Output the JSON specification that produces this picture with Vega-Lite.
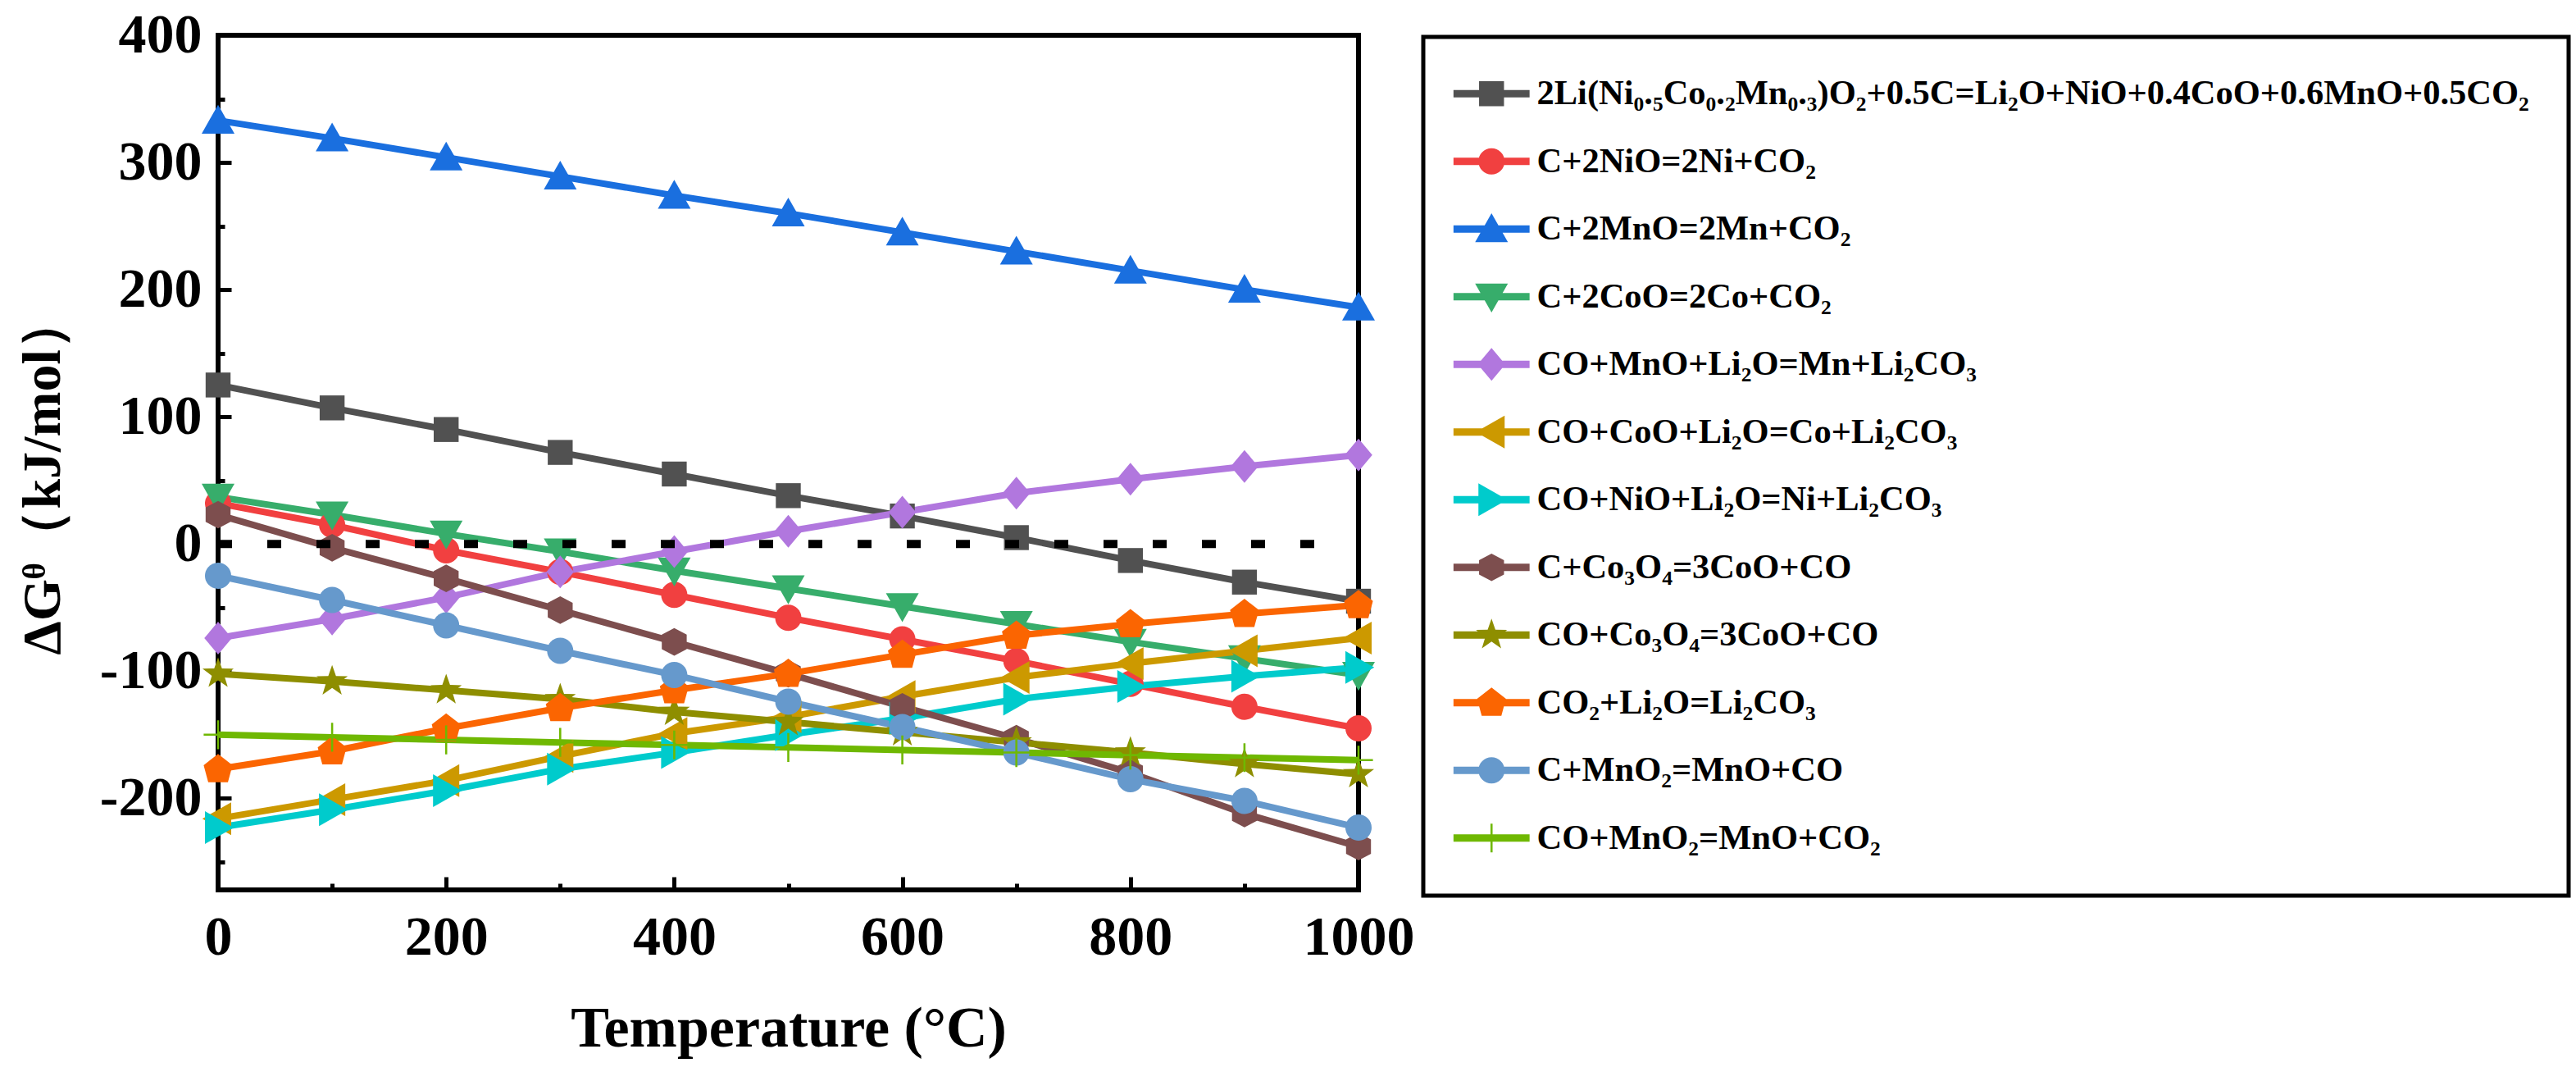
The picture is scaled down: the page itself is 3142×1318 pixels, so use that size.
{
  "$schema": "https://vega.github.io/schema/vega-lite/v6.json",
  "width": 1391,
  "height": 1042,
  "autosize": {"type": "none"},
  "padding": {"left": 266, "top": 43, "right": 1485, "bottom": 233},
  "background": "white",
  "config": {
    "view": {"stroke": "black", "strokeWidth": 6},
    "font": "Liberation Serif",
    "axis": {
      "domain": false,
      "grid": false,
      "labelFlush": false,
      "labelFont": "Liberation Serif",
      "labelFontSize": 68,
      "labelFontWeight": "bold",
      "labelColor": "black",
      "tickColor": "black",
      "tickWidth": 5,
      "titleFont": "Liberation Serif",
      "titleFontWeight": "bold",
      "titleColor": "black"
    },
    "legend": {
      "strokeColor": "black",
      "strokeWidth": 5,
      "fillColor": "white",
      "padding": 48,
      "labelFont": "Liberation Serif",
      "labelFontSize": 42.5,
      "labelFontWeight": "bold",
      "labelColor": "black",
      "labelLimit": 3000,
      "labelOffset": 34,
      "symbolOffset": 14,
      "symbolSize": 1024,
      "symbolStrokeWidth": 0,
      "rowPadding": 39.5
    }
  },
  "datasets": {
    "curves": [
      {"reaction": "2Li(Ni₀.₅Co₀.₂Mn₀.₃)O₂+0.5C=Li₂O+NiO+0.4CoO+0.6MnO+0.5CO₂", "T": 0, "G": 125},
      {"reaction": "2Li(Ni₀.₅Co₀.₂Mn₀.₃)O₂+0.5C=Li₂O+NiO+0.4CoO+0.6MnO+0.5CO₂", "T": 100, "G": 107},
      {"reaction": "2Li(Ni₀.₅Co₀.₂Mn₀.₃)O₂+0.5C=Li₂O+NiO+0.4CoO+0.6MnO+0.5CO₂", "T": 200, "G": 90},
      {"reaction": "2Li(Ni₀.₅Co₀.₂Mn₀.₃)O₂+0.5C=Li₂O+NiO+0.4CoO+0.6MnO+0.5CO₂", "T": 300, "G": 72},
      {"reaction": "2Li(Ni₀.₅Co₀.₂Mn₀.₃)O₂+0.5C=Li₂O+NiO+0.4CoO+0.6MnO+0.5CO₂", "T": 400, "G": 55},
      {"reaction": "2Li(Ni₀.₅Co₀.₂Mn₀.₃)O₂+0.5C=Li₂O+NiO+0.4CoO+0.6MnO+0.5CO₂", "T": 500, "G": 38},
      {"reaction": "2Li(Ni₀.₅Co₀.₂Mn₀.₃)O₂+0.5C=Li₂O+NiO+0.4CoO+0.6MnO+0.5CO₂", "T": 600, "G": 22},
      {"reaction": "2Li(Ni₀.₅Co₀.₂Mn₀.₃)O₂+0.5C=Li₂O+NiO+0.4CoO+0.6MnO+0.5CO₂", "T": 700, "G": 5},
      {"reaction": "2Li(Ni₀.₅Co₀.₂Mn₀.₃)O₂+0.5C=Li₂O+NiO+0.4CoO+0.6MnO+0.5CO₂", "T": 800, "G": -13},
      {"reaction": "2Li(Ni₀.₅Co₀.₂Mn₀.₃)O₂+0.5C=Li₂O+NiO+0.4CoO+0.6MnO+0.5CO₂", "T": 900, "G": -30},
      {"reaction": "2Li(Ni₀.₅Co₀.₂Mn₀.₃)O₂+0.5C=Li₂O+NiO+0.4CoO+0.6MnO+0.5CO₂", "T": 1000, "G": -45},
      {"reaction": "C+2NiO=2Ni+CO₂", "T": 0, "G": 32},
      {"reaction": "C+2NiO=2Ni+CO₂", "T": 100, "G": 15},
      {"reaction": "C+2NiO=2Ni+CO₂", "T": 200, "G": -5},
      {"reaction": "C+2NiO=2Ni+CO₂", "T": 300, "G": -22},
      {"reaction": "C+2NiO=2Ni+CO₂", "T": 400, "G": -40},
      {"reaction": "C+2NiO=2Ni+CO₂", "T": 500, "G": -58},
      {"reaction": "C+2NiO=2Ni+CO₂", "T": 600, "G": -75},
      {"reaction": "C+2NiO=2Ni+CO₂", "T": 700, "G": -92},
      {"reaction": "C+2NiO=2Ni+CO₂", "T": 800, "G": -110},
      {"reaction": "C+2NiO=2Ni+CO₂", "T": 900, "G": -128},
      {"reaction": "C+2NiO=2Ni+CO₂", "T": 1000, "G": -145},
      {"reaction": "C+2MnO=2Mn+CO₂", "T": 0, "G": 333},
      {"reaction": "C+2MnO=2Mn+CO₂", "T": 100, "G": 319},
      {"reaction": "C+2MnO=2Mn+CO₂", "T": 200, "G": 304},
      {"reaction": "C+2MnO=2Mn+CO₂", "T": 300, "G": 289},
      {"reaction": "C+2MnO=2Mn+CO₂", "T": 400, "G": 274},
      {"reaction": "C+2MnO=2Mn+CO₂", "T": 500, "G": 260},
      {"reaction": "C+2MnO=2Mn+CO₂", "T": 600, "G": 245},
      {"reaction": "C+2MnO=2Mn+CO₂", "T": 700, "G": 230},
      {"reaction": "C+2MnO=2Mn+CO₂", "T": 800, "G": 215},
      {"reaction": "C+2MnO=2Mn+CO₂", "T": 900, "G": 200},
      {"reaction": "C+2MnO=2Mn+CO₂", "T": 1000, "G": 186},
      {"reaction": "C+2CoO=2Co+CO₂", "T": 0, "G": 37},
      {"reaction": "C+2CoO=2Co+CO₂", "T": 100, "G": 23},
      {"reaction": "C+2CoO=2Co+CO₂", "T": 200, "G": 8},
      {"reaction": "C+2CoO=2Co+CO₂", "T": 300, "G": -6},
      {"reaction": "C+2CoO=2Co+CO₂", "T": 400, "G": -21},
      {"reaction": "C+2CoO=2Co+CO₂", "T": 500, "G": -35},
      {"reaction": "C+2CoO=2Co+CO₂", "T": 600, "G": -49},
      {"reaction": "C+2CoO=2Co+CO₂", "T": 700, "G": -63},
      {"reaction": "C+2CoO=2Co+CO₂", "T": 800, "G": -77},
      {"reaction": "C+2CoO=2Co+CO₂", "T": 900, "G": -90},
      {"reaction": "C+2CoO=2Co+CO₂", "T": 1000, "G": -103},
      {"reaction": "CO+MnO+Li₂O=Mn+Li₂CO₃", "T": 0, "G": -74},
      {"reaction": "CO+MnO+Li₂O=Mn+Li₂CO₃", "T": 100, "G": -59},
      {"reaction": "CO+MnO+Li₂O=Mn+Li₂CO₃", "T": 200, "G": -42},
      {"reaction": "CO+MnO+Li₂O=Mn+Li₂CO₃", "T": 300, "G": -22},
      {"reaction": "CO+MnO+Li₂O=Mn+Li₂CO₃", "T": 400, "G": -6},
      {"reaction": "CO+MnO+Li₂O=Mn+Li₂CO₃", "T": 500, "G": 10},
      {"reaction": "CO+MnO+Li₂O=Mn+Li₂CO₃", "T": 600, "G": 25},
      {"reaction": "CO+MnO+Li₂O=Mn+Li₂CO₃", "T": 700, "G": 40},
      {"reaction": "CO+MnO+Li₂O=Mn+Li₂CO₃", "T": 800, "G": 51},
      {"reaction": "CO+MnO+Li₂O=Mn+Li₂CO₃", "T": 900, "G": 61},
      {"reaction": "CO+MnO+Li₂O=Mn+Li₂CO₃", "T": 1000, "G": 70},
      {"reaction": "CO+CoO+Li₂O=Co+Li₂CO₃", "T": 0, "G": -216},
      {"reaction": "CO+CoO+Li₂O=Co+Li₂CO₃", "T": 100, "G": -201},
      {"reaction": "CO+CoO+Li₂O=Co+Li₂CO₃", "T": 200, "G": -186},
      {"reaction": "CO+CoO+Li₂O=Co+Li₂CO₃", "T": 300, "G": -167},
      {"reaction": "CO+CoO+Li₂O=Co+Li₂CO₃", "T": 400, "G": -149},
      {"reaction": "CO+CoO+Li₂O=Co+Li₂CO₃", "T": 500, "G": -136},
      {"reaction": "CO+CoO+Li₂O=Co+Li₂CO₃", "T": 600, "G": -120},
      {"reaction": "CO+CoO+Li₂O=Co+Li₂CO₃", "T": 700, "G": -105},
      {"reaction": "CO+CoO+Li₂O=Co+Li₂CO₃", "T": 800, "G": -94},
      {"reaction": "CO+CoO+Li₂O=Co+Li₂CO₃", "T": 900, "G": -84},
      {"reaction": "CO+CoO+Li₂O=Co+Li₂CO₃", "T": 1000, "G": -74},
      {"reaction": "CO+NiO+Li₂O=Ni+Li₂CO₃", "T": 0, "G": -223},
      {"reaction": "CO+NiO+Li₂O=Ni+Li₂CO₃", "T": 100, "G": -209},
      {"reaction": "CO+NiO+Li₂O=Ni+Li₂CO₃", "T": 200, "G": -194},
      {"reaction": "CO+NiO+Li₂O=Ni+Li₂CO₃", "T": 300, "G": -177},
      {"reaction": "CO+NiO+Li₂O=Ni+Li₂CO₃", "T": 400, "G": -164},
      {"reaction": "CO+NiO+Li₂O=Ni+Li₂CO₃", "T": 500, "G": -150},
      {"reaction": "CO+NiO+Li₂O=Ni+Li₂CO₃", "T": 600, "G": -137},
      {"reaction": "CO+NiO+Li₂O=Ni+Li₂CO₃", "T": 700, "G": -122},
      {"reaction": "CO+NiO+Li₂O=Ni+Li₂CO₃", "T": 800, "G": -112},
      {"reaction": "CO+NiO+Li₂O=Ni+Li₂CO₃", "T": 900, "G": -104},
      {"reaction": "CO+NiO+Li₂O=Ni+Li₂CO₃", "T": 1000, "G": -97},
      {"reaction": "C+Co₃O₄=3CoO+CO", "T": 0, "G": 23},
      {"reaction": "C+Co₃O₄=3CoO+CO", "T": 100, "G": -3},
      {"reaction": "C+Co₃O₄=3CoO+CO", "T": 200, "G": -27},
      {"reaction": "C+Co₃O₄=3CoO+CO", "T": 300, "G": -52},
      {"reaction": "C+Co₃O₄=3CoO+CO", "T": 400, "G": -77},
      {"reaction": "C+Co₃O₄=3CoO+CO", "T": 500, "G": -102},
      {"reaction": "C+Co₃O₄=3CoO+CO", "T": 600, "G": -128},
      {"reaction": "C+Co₃O₄=3CoO+CO", "T": 700, "G": -153},
      {"reaction": "C+Co₃O₄=3CoO+CO", "T": 800, "G": -180},
      {"reaction": "C+Co₃O₄=3CoO+CO", "T": 900, "G": -212},
      {"reaction": "C+Co₃O₄=3CoO+CO", "T": 1000, "G": -238},
      {"reaction": "CO+Co₃O₄=3CoO+CO", "T": 0, "G": -102},
      {"reaction": "CO+Co₃O₄=3CoO+CO", "T": 100, "G": -108},
      {"reaction": "CO+Co₃O₄=3CoO+CO", "T": 200, "G": -115},
      {"reaction": "CO+Co₃O₄=3CoO+CO", "T": 300, "G": -122},
      {"reaction": "CO+Co₃O₄=3CoO+CO", "T": 400, "G": -132},
      {"reaction": "CO+Co₃O₄=3CoO+CO", "T": 500, "G": -140},
      {"reaction": "CO+Co₃O₄=3CoO+CO", "T": 600, "G": -148},
      {"reaction": "CO+Co₃O₄=3CoO+CO", "T": 700, "G": -156},
      {"reaction": "CO+Co₃O₄=3CoO+CO", "T": 800, "G": -164},
      {"reaction": "CO+Co₃O₄=3CoO+CO", "T": 900, "G": -173},
      {"reaction": "CO+Co₃O₄=3CoO+CO", "T": 1000, "G": -181},
      {"reaction": "CO₂+Li₂O=Li₂CO₃", "T": 0, "G": -177},
      {"reaction": "CO₂+Li₂O=Li₂CO₃", "T": 100, "G": -163},
      {"reaction": "CO₂+Li₂O=Li₂CO₃", "T": 200, "G": -145},
      {"reaction": "CO₂+Li₂O=Li₂CO₃", "T": 300, "G": -129},
      {"reaction": "CO₂+Li₂O=Li₂CO₃", "T": 400, "G": -115},
      {"reaction": "CO₂+Li₂O=Li₂CO₃", "T": 500, "G": -102},
      {"reaction": "CO₂+Li₂O=Li₂CO₃", "T": 600, "G": -87},
      {"reaction": "CO₂+Li₂O=Li₂CO₃", "T": 700, "G": -72},
      {"reaction": "CO₂+Li₂O=Li₂CO₃", "T": 800, "G": -63},
      {"reaction": "CO₂+Li₂O=Li₂CO₃", "T": 900, "G": -55},
      {"reaction": "CO₂+Li₂O=Li₂CO₃", "T": 1000, "G": -48},
      {"reaction": "C+MnO₂=MnO+CO", "T": 0, "G": -25},
      {"reaction": "C+MnO₂=MnO+CO", "T": 100, "G": -44},
      {"reaction": "C+MnO₂=MnO+CO", "T": 200, "G": -64},
      {"reaction": "C+MnO₂=MnO+CO", "T": 300, "G": -84},
      {"reaction": "C+MnO₂=MnO+CO", "T": 400, "G": -103},
      {"reaction": "C+MnO₂=MnO+CO", "T": 500, "G": -124},
      {"reaction": "C+MnO₂=MnO+CO", "T": 600, "G": -144},
      {"reaction": "C+MnO₂=MnO+CO", "T": 700, "G": -164},
      {"reaction": "C+MnO₂=MnO+CO", "T": 800, "G": -185},
      {"reaction": "C+MnO₂=MnO+CO", "T": 900, "G": -202},
      {"reaction": "C+MnO₂=MnO+CO", "T": 1000, "G": -223},
      {"reaction": "CO+MnO₂=MnO+CO₂", "T": 0, "G": -150},
      {"reaction": "CO+MnO₂=MnO+CO₂", "T": 100, "G": -152},
      {"reaction": "CO+MnO₂=MnO+CO₂", "T": 200, "G": -154},
      {"reaction": "CO+MnO₂=MnO+CO₂", "T": 300, "G": -156},
      {"reaction": "CO+MnO₂=MnO+CO₂", "T": 400, "G": -158},
      {"reaction": "CO+MnO₂=MnO+CO₂", "T": 500, "G": -160},
      {"reaction": "CO+MnO₂=MnO+CO₂", "T": 600, "G": -162},
      {"reaction": "CO+MnO₂=MnO+CO₂", "T": 700, "G": -164},
      {"reaction": "CO+MnO₂=MnO+CO₂", "T": 800, "G": -166},
      {"reaction": "CO+MnO₂=MnO+CO₂", "T": 900, "G": -168},
      {"reaction": "CO+MnO₂=MnO+CO₂", "T": 1000, "G": -170}
    ],
    "zero": [{"T": 0, "T2": 963, "G": 0}]
  },
  "layer": [
    {
      "data": {"name": "curves"},
      "mark": {"type": "line", "strokeWidth": 8},
      "encoding": {
        "x": {
          "field": "T", "type": "quantitative",
          "scale": {"domain": [0, 1000], "nice": false},
          "axis": {"values": [0, 200, 400, 600, 800, 1000], "format": "d", "tickSize": -16, "labelPadding": 40, "title": "Temperature (°C)", "titleFontSize": 70, "titleY": 190, "titleBaseline": "alphabetic", "orient": "bottom"}
        },
        "y": {
          "field": "G", "type": "quantitative",
          "scale": {"domain": [-272, 400], "nice": false, "zero": false},
          "axis": {"values": [-200, -100, 0, 100, 200, 300, 400], "format": "d", "labelExpr": "replace(datum.label, '\u2212', '-')", "tickSize": -16, "labelPadding": 36, "title": "ΔGᶿ（kJ/mol）", "titleFontSize": 66, "titleX": -214, "titleY": 536, "titleBaseline": "middle", "titleAngle": -90, "orient": "left"}
        },
        "color": {
          "field": "reaction", "type": "nominal",
          "scale": {
            "domain": ["2Li(Ni₀.₅Co₀.₂Mn₀.₃)O₂+0.5C=Li₂O+NiO+0.4CoO+0.6MnO+0.5CO₂", "C+2NiO=2Ni+CO₂", "C+2MnO=2Mn+CO₂", "C+2CoO=2Co+CO₂", "CO+MnO+Li₂O=Mn+Li₂CO₃", "CO+CoO+Li₂O=Co+Li₂CO₃", "CO+NiO+Li₂O=Ni+Li₂CO₃", "C+Co₃O₄=3CoO+CO", "CO+Co₃O₄=3CoO+CO", "CO₂+Li₂O=Li₂CO₃", "C+MnO₂=MnO+CO", "CO+MnO₂=MnO+CO₂"],
            "range": ["#515151", "#F14040", "#1A6FDF", "#37AD6B", "#B177DE", "#CC9900", "#00CBCC", "#7D4E4E", "#8E8E00", "#FB6501", "#6699CC", "#6FB802"]
          },
          "legend": {
            "title": null, "orient": "none", "legendX": 1470, "legendY": 2,
            "encode": {"symbols": {"update": {
              "shape": {"signal": "'M-2.9,-0.28H2.9V0.28H-2.9Z' + scale('shape', datum.value)"},
              "fill": {"signal": "scale('color', datum.value)"},
              "strokeWidth": {"value": 0},
              "opacity": {"value": 1}
            }}}
          }
        }
      }
    },
    {
      "data": {"name": "curves"},
      "mark": {"type": "point", "filled": true, "size": 1024, "opacity": 1, "strokeWidth": 0},
      "encoding": {
        "x": {
          "field": "T", "type": "quantitative",
          "axis": {"values": [100, 300, 500, 700, 900], "tickSize": -8, "labels": false, "title": null, "orient": "bottom"}
        },
        "y": {
          "field": "G", "type": "quantitative",
          "axis": {"values": [-250, -150, -50, 50, 150, 250, 350], "tickSize": -8, "labels": false, "title": null, "orient": "left"}
        },
        "color": {
          "field": "reaction", "type": "nominal",
          "legend": {
            "title": null, "orient": "none", "legendX": 1470, "legendY": 2,
            "encode": {"symbols": {"update": {
              "shape": {"signal": "'M-2.9,-0.28H2.9V0.28H-2.9Z' + scale('shape', datum.value)"},
              "fill": {"signal": "scale('color', datum.value)"},
              "strokeWidth": {"value": 0},
              "opacity": {"value": 1}
            }}}
          }
        },
        "shape": {
          "field": "reaction", "type": "nominal",
          "scale": {
            "domain": ["CO+MnO₂=MnO+CO₂", "C+MnO₂=MnO+CO", "CO₂+Li₂O=Li₂CO₃", "CO+Co₃O₄=3CoO+CO", "C+Co₃O₄=3CoO+CO", "CO+NiO+Li₂O=Ni+Li₂CO₃", "CO+CoO+Li₂O=Co+Li₂CO₃", "CO+MnO+Li₂O=Mn+Li₂CO₃", "C+2CoO=2Co+CO₂", "C+2MnO=2Mn+CO₂", "C+2NiO=2Ni+CO₂", "2Li(Ni₀.₅Co₀.₂Mn₀.₃)O₂+0.5C=Li₂O+NiO+0.4CoO+0.6MnO+0.5CO₂"],
            "range": [
              "M-0.08,-1.1H0.08V1.1H-0.08ZM-1.1,-0.08H1.1V0.08H-1.1Z",
              "M1,0A1,1,0,1,1,-1,0A1,1,0,1,1,1,0Z",
              "M0,-1.15L1.1,-0.3L0.75,1H-0.75L-1.1,-0.3Z",
              "M0,-1.25L0.294,-0.405L1.189,-0.386L0.476,0.155L0.735,1.011L0,0.5L-0.735,1.011L-0.476,0.155L-1.189,-0.386L-0.294,-0.405Z",
              "M0,-1.05L0.95,-0.55V0.55L0,1.05L-0.95,0.55V-0.55Z",
              "M1.2,0L-1,1.25V-1.25Z",
              "M-1.2,0L1,-1.25V1.25Z",
              "M0,-1.25L1.05,0L0,1.25L-1.05,0Z",
              "M-1.25,-1H1.25L0,1.2Z",
              "M0,-1.2L1.25,1H-1.25Z",
              "M1,0A1,1,0,1,1,-1,0A1,1,0,1,1,1,0Z",
              "M-0.95,-0.95H0.95V0.95H-0.95Z"
            ]
          },
          "legend": null
        }
      }
    },
    {
      "data": {"name": "zero"},
      "mark": {"type": "rule", "color": "black", "strokeWidth": 10, "strokeDash": [17, 43], "strokeCap": "butt"},
      "encoding": {
        "x": {"field": "T", "type": "quantitative", "axis": null},
        "x2": {"field": "T2"},
        "y": {"field": "G", "type": "quantitative", "axis": null}
      }
    }
  ],
  "resolve": {"axis": {"x": "independent", "y": "independent"}}
}
